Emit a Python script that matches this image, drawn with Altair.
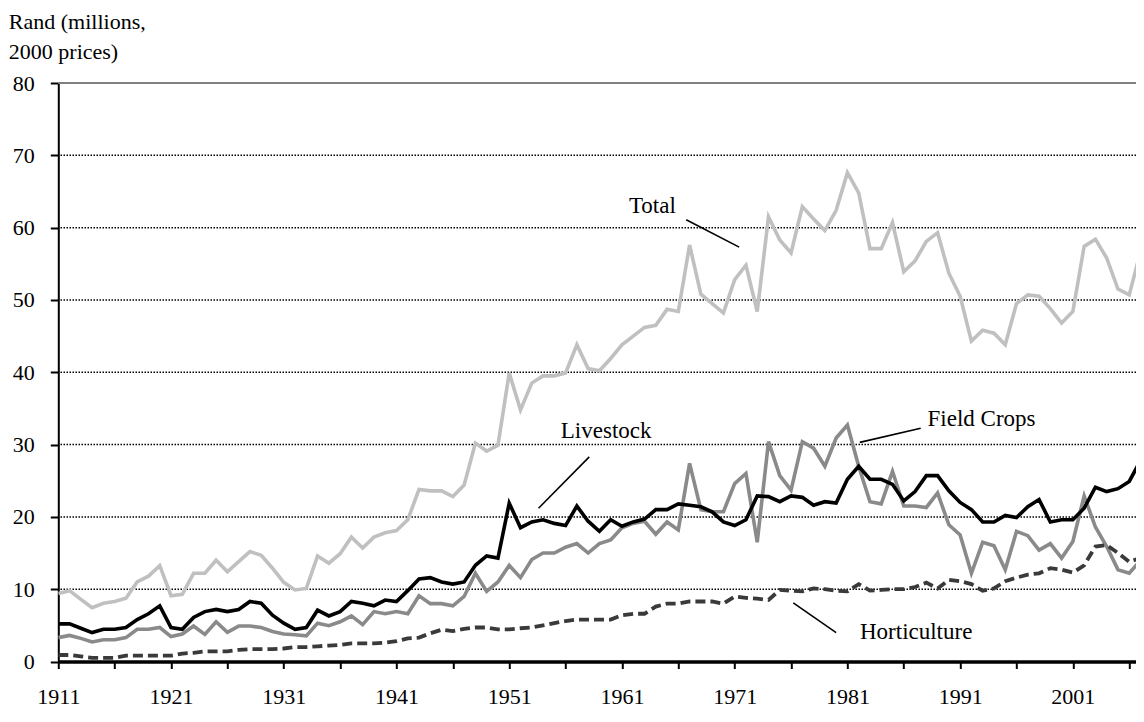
import altair as alt
import pandas as pd

years = list(range(1911, 2009))

total = [9.4, 9.8, 8.6, 7.45, 8.05, 8.3, 8.75, 11.0, 11.8, 13.25,
         9.1, 9.3, 12.2, 12.2, 14.0, 12.4, 13.8, 15.2, 14.7, 12.9,
         10.95, 9.9, 10.1, 14.6, 13.6, 14.9, 17.2, 15.7, 17.2, 17.8,
         18.1, 19.6, 23.8, 23.6, 23.6, 22.8, 24.4, 30.2, 29.1, 29.9,
         39.9, 34.8, 38.5, 39.5, 39.5, 39.9, 43.8, 40.5, 40.2, 41.9,
         43.8, 45.0, 46.2, 46.5, 48.7, 48.4, 57.6, 50.8, 49.5, 48.2,
         52.8, 54.8, 48.4, 61.5, 58.3, 56.5, 62.9, 61.2, 59.6, 62.4,
         67.6, 64.8, 57.1, 57.1, 60.7, 53.9, 55.4, 58.1, 59.3, 53.7,
         50.5, 44.3, 45.8, 45.4, 43.8, 49.5, 50.7, 50.5, 48.8, 46.8,
         48.4, 57.4, 58.4, 55.8, 51.5, 50.7, 56.7, 73.0]

livestock = [5.2, 5.2, 4.6, 4.0, 4.45, 4.45, 4.7, 5.8, 6.6, 7.7,
             4.7, 4.45, 6.1, 6.9, 7.2, 6.9, 7.2, 8.3, 8.05, 6.4,
             5.3, 4.45, 4.7, 7.1, 6.3, 6.9, 8.3, 8.05, 7.7, 8.5,
             8.3, 9.8, 11.4, 11.6, 11.0, 10.7, 11.0, 13.3, 14.6, 14.3,
             21.9, 18.5, 19.3, 19.6, 19.1, 18.8, 21.5, 19.4, 18.0, 19.6,
             18.7, 19.3, 19.7, 21.0, 21.0, 21.8, 21.6, 21.4, 20.7, 19.3,
             18.8, 19.6, 22.9, 22.8, 22.1, 22.9, 22.7, 21.6, 22.1, 21.9,
             25.2, 27.0, 25.2, 25.2, 24.5, 22.2, 23.5, 25.7, 25.7, 23.6,
             22.0, 21.0, 19.3, 19.3, 20.2, 19.9, 21.4, 22.4, 19.3, 19.6,
             19.6, 21.2, 24.1, 23.5, 23.9, 24.9, 27.8, 30.0]

field_crops = [3.3, 3.6, 3.2, 2.7, 3.0, 3.0, 3.3, 4.45, 4.45, 4.7,
               3.45, 3.8, 4.9, 3.75, 5.5, 4.05, 4.9, 4.9, 4.7, 4.15,
               3.8, 3.7, 3.55, 5.3, 4.95, 5.5, 6.3, 5.1, 6.9, 6.6,
               6.9, 6.6, 9.1, 8.0, 8.0, 7.7, 9.0, 12.2, 9.7, 11.0,
               13.3, 11.6, 14.1, 15.0, 15.0, 15.8, 16.3, 15.0, 16.3, 16.8,
               18.5, 19.1, 19.4, 17.6, 19.3, 18.2, 27.4, 21.0, 20.7, 20.7,
               24.6, 26.0, 16.5, 30.4, 25.7, 23.7, 30.4, 29.5, 27.0, 30.9,
               32.7, 27.0, 22.1, 21.8, 26.3, 21.5, 21.5, 21.3, 23.3, 18.9,
               17.5, 12.2, 16.5, 16.0, 12.7, 18.0, 17.4, 15.4, 16.3, 14.3,
               16.6, 22.9, 18.6, 15.9, 12.7, 12.2, 14.0, 26.0]

horticulture = [0.9, 0.9, 0.7, 0.5, 0.5, 0.5, 0.8, 0.8, 0.8, 0.8,
                0.8, 1.1, 1.2, 1.4, 1.4, 1.4, 1.6, 1.7, 1.7, 1.7,
                1.8, 2.0, 2.0, 2.1, 2.2, 2.3, 2.5, 2.5, 2.5, 2.6,
                2.8, 3.2, 3.3, 3.9, 4.4, 4.2, 4.5, 4.7, 4.7, 4.45,
                4.45, 4.6, 4.7, 5.0, 5.3, 5.6, 5.8, 5.8, 5.8, 5.8,
                6.4, 6.6, 6.6, 7.6, 8.0, 8.0, 8.3, 8.3, 8.3, 8.0,
                9.0, 8.8, 8.7, 8.5, 9.9, 9.8, 9.7, 10.1, 10.0, 9.8,
                9.7, 10.7, 9.8, 9.9, 10.0, 10.0, 10.3, 10.9, 10.1, 11.3,
                11.1, 10.7, 9.8, 10.1, 11.1, 11.6, 12.0, 12.2, 12.9, 12.7,
                12.3, 13.3, 15.9, 16.1, 15.0, 13.8, 14.3, 15.0]

x_tick_values = [1911, 1916, 1921, 1926, 1931, 1936, 1941, 1946, 1951, 1956,
                 1961, 1966, 1971, 1976, 1981, 1986, 1991, 1996, 2001, 2006]
y_tick_values = [0, 10, 20, 30, 40, 50, 60, 70, 80]
grid_values = [10, 20, 30, 40, 50, 60, 70]
top_value = [80]

# annotation labels (data coordinates)
ann_labels = ["Total", "Livestock", "Field Crops", "Horticulture"]
ann_text_x = [1963.7, 1959.6, 1992.9, 1987.1]
ann_text_y = [62.0, 30.9, 32.5, 3.1]
lead_x1 = [1966.7, 1958.1, 1987.5, 1976.2]
lead_y1 = [61.1, 28.3, 32.25, 8.1]
lead_x2 = [1971.4, 1953.6, 1982.1, 1980.0]
lead_y2 = [57.3, 21.2, 30.3, 4.0]

FONT = "Liberation Serif"

xscale = alt.Scale(domain=[1911, 2006.6], nice=False, zero=False)
yscale = alt.Scale(domain=[0, 80], nice=False)

xaxis = alt.Axis(values=x_tick_values,
                 labelExpr="(datum.value - 1911) % 10 == 0 ? datum.value : ''",
                 labelOverlap=False, labelFlush=False, grid=False,
                 tickSize=7, tickWidth=2, tickColor="black",
                 domainColor="black", domainWidth=3.5,
                 labelFont=FONT, labelFontSize=22, labelColor="black",
                 labelBaseline="alphabetic", labelPadding=34.5)
yaxis = alt.Axis(values=y_tick_values, format="d", grid=False,
                 tickSize=8, tickWidth=2, tickColor="black",
                 domainColor="black", domainWidth=2,
                 labelFont=FONT, labelFontSize=22, labelColor="black",
                 labelPadding=16,
                 titleAngle=0, titleX=-50, titleY=-55, titleAlign="left",
                 titleBaseline="alphabetic", titleFont=FONT, titleFontSize=22,
                 titleFontWeight="normal", titleColor="black", titleLineHeight=30)

YTITLE = ["Rand (millions,", "2000 prices)"]


def X(field):
    return alt.X(field, type="quantitative", scale=xscale, axis=xaxis, title=None)


def Y(field):
    return alt.Y(field, type="quantitative", scale=yscale, axis=yaxis, title=YTITLE)


df = pd.DataFrame({"year": years, "Total": total, "Livestock": livestock,
                   "Field Crops": field_crops, "Horticulture": horticulture})

grid_df = pd.DataFrame({"v": grid_values})
top_df = pd.DataFrame({"v": top_value})
ann_df = pd.DataFrame({"label": ann_labels, "tx": ann_text_x, "ty": ann_text_y,
                       "x1": lead_x1, "y1": lead_y1, "x2": lead_x2, "y2": lead_y2})

grid = alt.Chart(grid_df).mark_rule(color="black", strokeWidth=1.5,
                                    strokeDash=[1.5, 1.5]).encode(y=Y("v"))
top = alt.Chart(top_df).mark_rule(color="#808080", strokeWidth=2).encode(y=Y("v"))

series_style = [
    ("Total", "#c0c0c0", None),
    ("Field Crops", "#8a8a8a", None),
    ("Livestock", "#000000", None),
    ("Horticulture", "#3a3a3a", [10, 5]),
]

lines = []
for name, color, dash in series_style:
    kw = dict(color=color, strokeWidth=3.6, clip=True, strokeJoin="miter")
    if dash is not None:
        kw["strokeDash"] = dash
        kw["strokeCap"] = "butt"
        kw["strokeWidth"] = 3.8
    lines.append(alt.Chart(df).mark_line(**kw).encode(x=X("year"), y=Y(name)))

leaders = alt.Chart(ann_df).mark_rule(color="black", strokeWidth=1.6).encode(
    x=X("x1"), y=Y("y1"), x2="x2", y2="y2")
texts = alt.Chart(ann_df).mark_text(font=FONT, fontSize=23, color="black",
                                    align="center", baseline="alphabetic").encode(
    x=X("tx"), y=Y("ty"), text="label")

chart = alt.layer(grid, top, *lines, leaders, texts).properties(
    width=1077.7, height=578.5,
    padding={"left": 50.3, "top": 75, "right": 0, "bottom": 46.5},
    autosize="none",
    background="white",
).configure_view(stroke=None)

chart.save("out.html", embed_options={"renderer": "svg", "actions": False})
